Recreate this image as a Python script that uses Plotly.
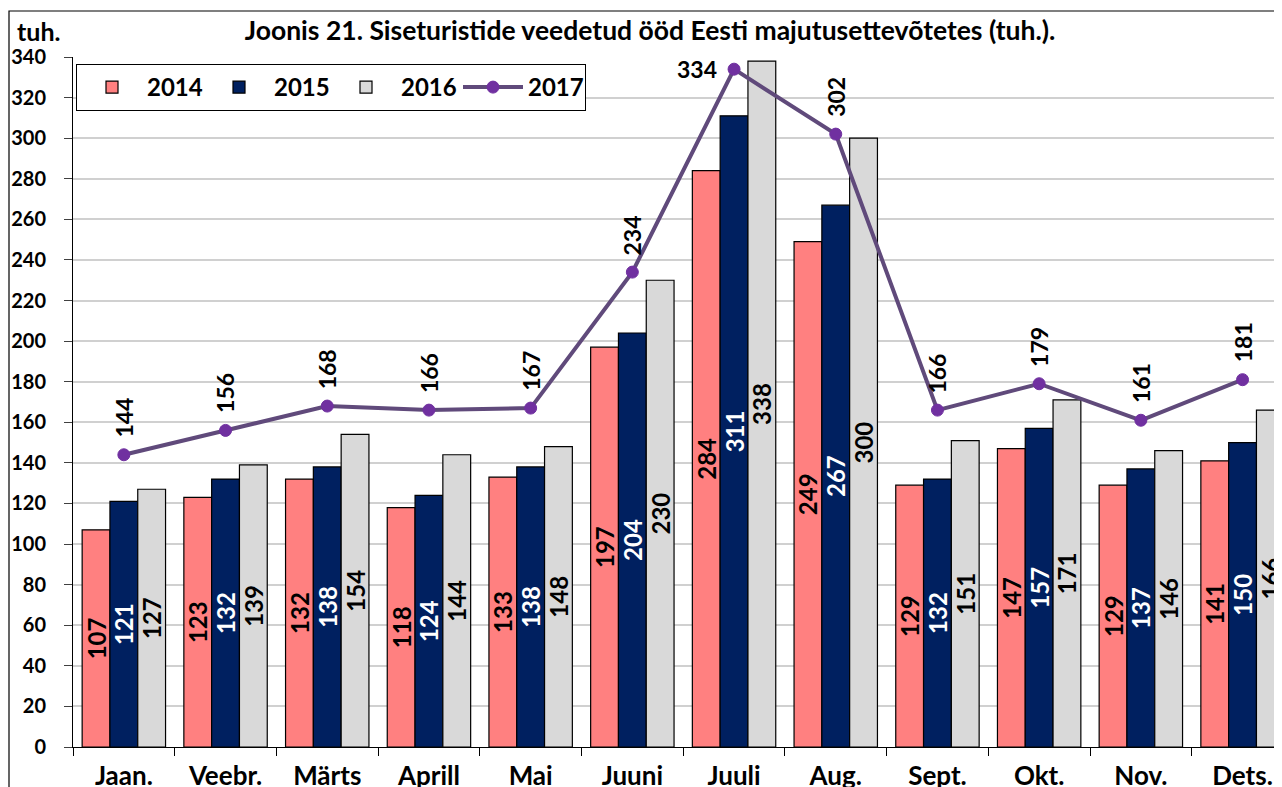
import plotly.graph_objects as go

months = ["Jaan.", "Veebr.", "Märts", "Aprill", "Mai", "Juuni", "Juuli",
          "Aug.", "Sept.", "Okt.", "Nov.", "Dets."]
v2014 = [107, 123, 132, 118, 133, 197, 284, 249, 129, 147, 129, 141]
v2015 = [121, 132, 138, 124, 138, 204, 311, 267, 132, 157, 137, 150]
v2016 = [127, 139, 154, 144, 148, 230, 338, 300, 151, 171, 146, 166]
v2017 = [144, 156, 168, 166, 167, 234, 334, 302, 166, 179, 161, 181]
y_ticks = list(range(0, 341, 20))

title_text = "Joonis 21. Siseturistide veedetud ööd Eesti majutusettevõtetes (tuh.)."
unit_text = "tuh."

FONT = "Lato, 'Open Sans', sans-serif"
OFF = 8  # default page body margin
W, H = 1282 - OFF, 787 - OFF
L, R, T, B = 73 - OFF, 0, 57 - OFF, 40
plot_w = W - L - R
plot_h = H - T - B
cat_px = 101.7
x_end = -0.5 + plot_w / cat_px

fig = go.Figure()

bar_specs = [("2014", v2014, "#FF8080", "black"),
             ("2015", v2015, "#002060", "white"),
             ("2016", v2016, "#D9D9D9", "black")]
for name, vals, col, tcol in bar_specs:
    fig.add_trace(go.Bar(
        x=months, y=vals, name=name,
        marker=dict(color=col, line=dict(color="black", width=1.2)),
        texttemplate="%{y}", textposition="inside", insidetextanchor="middle",
        textangle=-90, constraintext="none",
        textfont=dict(family=FONT, size=24, color=tcol, weight="bold"),
    ))

fig.add_trace(go.Scatter(
    x=months, y=v2017, name="2017", mode="lines+markers",
    line=dict(color="#604A7B", width=4),
    marker=dict(size=12, color="#7030A0", line=dict(color="#7030A0", width=1)),
))

# data labels for 2017 line
annotations = []
for m, v in zip(months, v2017):
    if m == "Juuli":
        annotations.append(dict(x=m, y=v, xref="x", yref="y", text=str(v),
                                showarrow=False, xanchor="right", yanchor="middle",
                                xshift=-15, font=dict(family=FONT, size=23, color="black", weight="bold")))
    else:
        annotations.append(dict(x=m, y=v, xref="x", yref="y", text=str(v),
                                showarrow=False, textangle=-90, xanchor="center",
                                yanchor="bottom", yshift=15,
                                font=dict(family=FONT, size=23, color="black", weight="bold")))

annotations.append(dict(x=(15 - 73) / plot_w, y=1 + (57 - 31) / plot_h, xref="paper", yref="paper",
                        text=unit_text, showarrow=False, xanchor="left", yanchor="middle",
                        font=dict(family=FONT, size=25, color="black", weight="bold")))

fig.update_layout(
    width=W, height=H,
    margin=dict(l=L, r=R, t=T, b=B, autoexpand=False),
    paper_bgcolor="white", plot_bgcolor="white",
    barmode="group", bargap=0.18, bargroupgap=0,
    title=dict(text=title_text, x=(650 - OFF) / W, xref="container", xanchor="center",
               y=1 - (31 - OFF) / H, yref="container", yanchor="middle",
               font=dict(family=FONT, size=26.5, color="black", weight="bold")),
    font=dict(family=FONT, color="black"),
    legend=dict(orientation="h", x=3 / plot_w, y=1 - 7 / plot_h, xanchor="left", yanchor="top",
                bgcolor="white", bordercolor="black", borderwidth=1,
                font=dict(family=FONT, size=24, color="black", weight="bold"),
                entrywidth=52, entrywidthmode="pixels", itemwidth=60,
                traceorder="normal"),
    xaxis=dict(type="category", range=[-0.5, x_end], tickson="boundaries",
               ticks="outside", ticklen=8, tickcolor="black", showgrid=False,
               showline=True, linecolor="black", linewidth=1,
               ticklabelstandoff=6,
               tickfont=dict(family=FONT, size=26, color="black", weight="bold")),
    yaxis=dict(range=[0, 340], tickvals=y_ticks, ticks="outside", ticklen=8,
               tickcolor="#404040", showline=True, linecolor="black", linewidth=1,
               gridcolor="#D0D0D0", gridwidth=1.5, zeroline=False,
               ticklabelstandoff=14,
               tickfont=dict(family=FONT, size=20, color="black", weight="bold")),
    annotations=annotations,
    shapes=[dict(type="rect", xref="paper", yref="paper",
                 x0=(9 - 73) / plot_w, x1=1.2, y0=-0.5, y1=1 + (57 - 11) / plot_h,
                 line=dict(color="black", width=1.2), fillcolor="rgba(0,0,0,0)", layer="below")],
)

fig.write_html("out.html")
